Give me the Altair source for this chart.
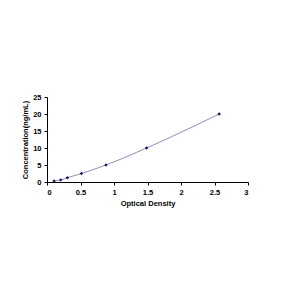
import altair as alt
import pandas as pd

od = [0.105, 0.205, 0.305, 0.514, 0.88, 1.486, 2.57]
conc = [0.312, 0.625, 1.25, 2.5, 5, 10, 20]

df = pd.DataFrame({"od": od, "conc": conc})

x = alt.X("od:Q", title="Optical Density",
          scale=alt.Scale(domain=[0, 3], nice=False),
          axis=alt.Axis(values=[0, 0.5, 1, 1.5, 2, 2.5, 3], format="~g", grid=False,
                        domainColor="black", tickColor="black", tickSize=3,
                        labelFont="Arial", labelFontSize=7.5, labelFontWeight="bold", labelColor="black",
                        titleFont="Arial", titleFontSize=7.5, titleFontWeight="bold", titleColor="black",
                        labelPadding=3, titlePadding=4))
y = alt.Y("conc:Q", title="Concentration(ng/mL)",
          scale=alt.Scale(domain=[0, 25], nice=False),
          axis=alt.Axis(values=[0, 5, 10, 15, 20, 25], grid=False,
                        domainColor="black", tickColor="black", tickSize=3,
                        labelFont="Arial", labelFontSize=7.5, labelFontWeight="bold", labelColor="black",
                        titleFont="Arial", titleFontSize=7.5, titleFontWeight="bold", titleColor="black",
                        labelPadding=3, titlePadding=3))

line = alt.Chart(df).mark_line(color="#7070b0", strokeWidth=0.8, interpolate="monotone").encode(x=x, y=y)
pts = alt.Chart(df).mark_point(shape="diamond", filled=True, color="#1a1a60", size=12, opacity=1).encode(x=x, y=y)

chart = (line + pts).properties(
    width=201, height=85,
    autosize=alt.AutoSizeParams(type="none"),
    padding={"left": 47, "top": 97, "right": 52, "bottom": 118},
    background="white",
).configure_view(stroke=None)

chart.save("out.html", embed_options={"renderer": "svg", "actions": False})
